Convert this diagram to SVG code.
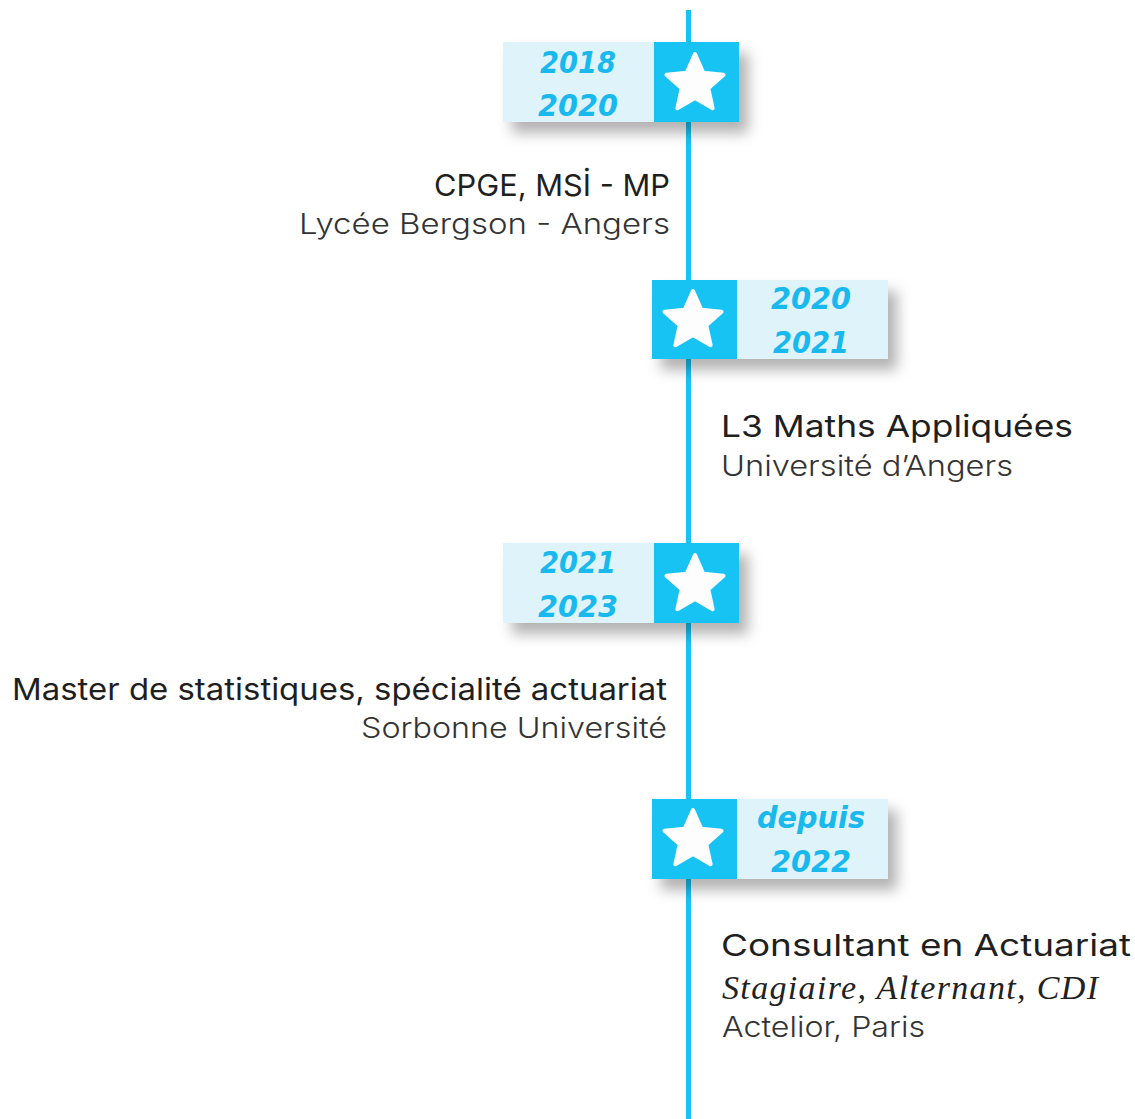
<svg xmlns="http://www.w3.org/2000/svg" width="1135" height="1119" viewBox="0 0 1135 1119">
  <style>
    .lt { fill: #dff3fb; }
    .dk { fill: #17c3f3; }
    .yr { font-family: "DejaVu Sans", sans-serif; font-weight: bold; font-style: italic; font-size: 31px; fill: #19b9ee; text-anchor: middle; }
    .ti { font-family: Inter, "Liberation Sans", sans-serif; font-weight: 400; font-size: 30px; fill: #1f1f1f; }
    .su { font-family: Inter, "Liberation Sans", sans-serif; font-weight: 300; font-size: 28px; fill: #333333; }
    .it { font-family: "Liberation Serif", serif; font-style: italic; font-size: 34px; fill: #222222; }
    .end { text-anchor: end; }
  </style>
  <defs>
    <filter id="sh" x="-20%" y="-30%" width="150%" height="190%">
      <feDropShadow dx="9" dy="11" stdDeviation="7" flood-color="#000" flood-opacity="0.3"/>
    </filter>
    <path id="star" d="M0,-30 L8.23,-11.33 L28.53,-9.27 L13.31,4.33 L17.63,24.27 L0,14 L-17.63,24.27 L-13.31,4.33 L-28.53,-9.27 L-8.23,-11.33 Z" fill="#fdfdfd" stroke="#fdfdfd" stroke-width="4" stroke-linejoin="round"/>
  </defs>
  <rect width="1135" height="1119" fill="#ffffff"/>

  <g id="connectors">
    <rect x="686" y="10" width="5" height="1109" fill="#17c3f5"/>
  </g>

  <g id="node1">
    <rect class="lt" x="503" y="42" width="236" height="80" filter="url(#sh)"/>
    <rect class="dk" x="654" y="42" width="85" height="80"/>
    <use href="#star" x="695" y="84"/>
    <text class="yr" x="578" y="73" textLength="76" lengthAdjust="spacingAndGlyphs">2018</text>
    <text class="yr" x="578" y="116" textLength="80" lengthAdjust="spacingAndGlyphs">2020</text>
    <text class="ti end" x="670" y="196" textLength="236" lengthAdjust="spacingAndGlyphs">CPGE, MSİ - MP</text>
    <text class="su end" x="670" y="234" textLength="371" lengthAdjust="spacingAndGlyphs">Lycée Bergson - Angers</text>
  </g>

  <g id="node2">
    <rect class="lt" x="652" y="280" width="236" height="79" filter="url(#sh)"/>
    <rect class="dk" x="652" y="280" width="85" height="79"/>
    <use href="#star" x="693" y="321"/>
    <text class="yr" x="811" y="309" textLength="80" lengthAdjust="spacingAndGlyphs">2020</text>
    <text class="yr" x="811" y="353" textLength="76" lengthAdjust="spacingAndGlyphs">2021</text>
    <text class="ti" x="721" y="437" textLength="352" lengthAdjust="spacingAndGlyphs">L3 Maths Appliquées</text>
    <text class="su" x="721" y="476" textLength="292" lengthAdjust="spacingAndGlyphs">Université d’Angers</text>
  </g>

  <g id="node3">
    <rect class="lt" x="503" y="543" width="236" height="80" filter="url(#sh)"/>
    <rect class="dk" x="654" y="543" width="85" height="80"/>
    <use href="#star" x="695" y="585"/>
    <text class="yr" x="578" y="573" textLength="76" lengthAdjust="spacingAndGlyphs">2021</text>
    <text class="yr" x="578" y="617" textLength="80" lengthAdjust="spacingAndGlyphs">2023</text>
    <text class="ti end" x="667" y="700" textLength="655" lengthAdjust="spacingAndGlyphs">Master de statistiques, spécialité actuariat</text>
    <text class="su end" x="667" y="738" textLength="306" lengthAdjust="spacingAndGlyphs">Sorbonne Université</text>
  </g>

  <g id="node4">
    <rect class="lt" x="652" y="799" width="236" height="80" filter="url(#sh)"/>
    <rect class="dk" x="652" y="799" width="85" height="80"/>
    <use href="#star" x="693" y="840"/>
    <text class="yr" x="811" y="828" textLength="108" lengthAdjust="spacingAndGlyphs">depuis</text>
    <text class="yr" x="811" y="872" textLength="80" lengthAdjust="spacingAndGlyphs">2022</text>
    <text class="ti" x="721" y="956" textLength="410" lengthAdjust="spacingAndGlyphs">Consultant en Actuariat</text>
    <text class="it" x="722" y="999" textLength="376">Stagiaire, Alternant, CDI</text>
    <text class="su" x="722" y="1037" textLength="203" lengthAdjust="spacingAndGlyphs">Actelior, Paris</text>
  </g>
</svg>
